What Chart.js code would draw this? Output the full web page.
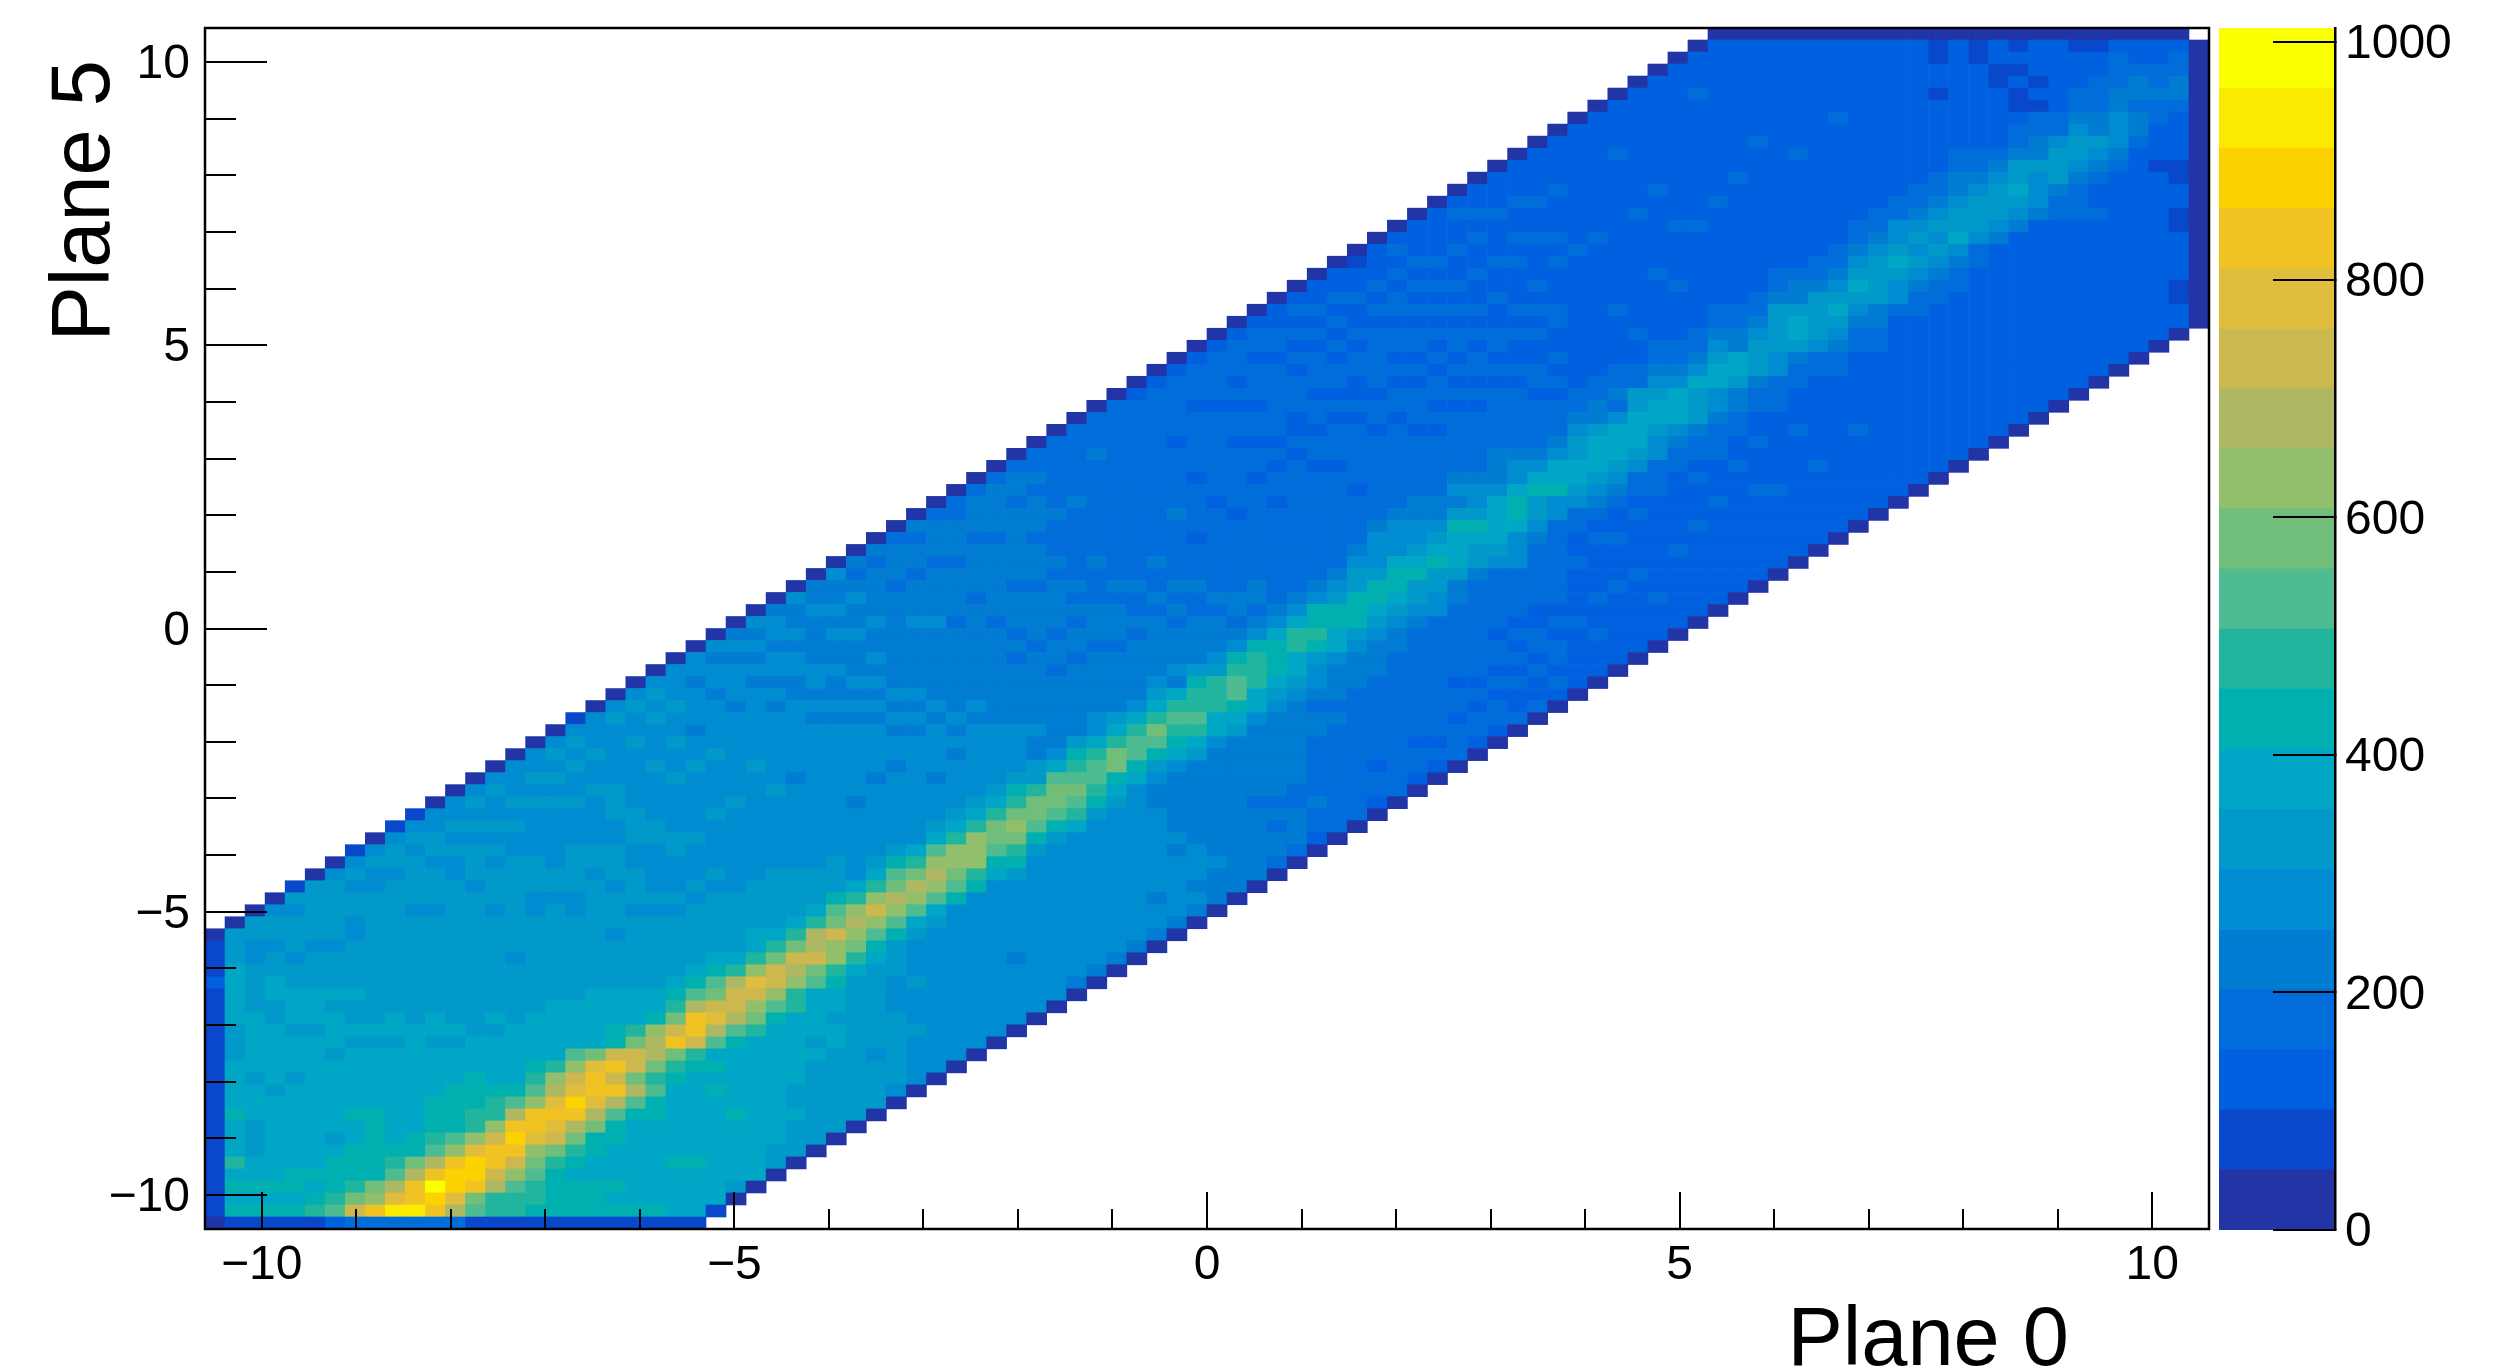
<!DOCTYPE html>
<html><head><meta charset="utf-8">
<style>html,body{margin:0;padding:0;background:#fff}#w{position:relative;width:2500px;height:1370px}canvas{position:absolute;left:0;top:0}</style>
<script src="https://cdn.jsdelivr.net/npm/chart.js@4"></script></head>
<body><div id="w"><canvas id="c1" width="2500" height="1370"></canvas><canvas id="c2" width="2500" height="1370"></canvas></div>
<script>
const xAxisTitle = "Plane 0";
const yAxisTitle = "Plane 5";
const axisMin = -10.6, axisMax = 10.6, binCount = 100;
const majorTicks = [-10, -5, 0, 5, 10];
const minorTicks = [-9,-8,-7,-6,-4,-3,-2,-1,1,2,3,4,6,7,8,9];
const zMax = 1012;
const zTicks = [0, 200, 400, 600, 800, 1000];
const palette = ["#2135A6","#0A48CB","#0061E0","#006DDB","#007CD3","#008CD0","#0099C9","#00A6C6","#00B0B0","#22B59E",
 "#4EBB90","#71BE7A","#92BF6C","#AEB863","#CCB84F","#E0BD3C","#F0C322","#FCD300","#F9EA00","#FBFF00"];
// per column: contour level (base-20 digit) of each filled y bin, lowest filled bin first
const columnFirstBin = [0,0,0,0,0,0,0,0,0,0,0,0,0,0,0,0,0,0,0,0,0,0,0,0,0,1,2,3,4,5,6,7,8,9,10,11,12,13,14,15,16,17,18,19,20,21,22,23,24,25,26,27,28,29,30,31,32,33,34,35,36,37,38,39,40,41,42,43,44,45,46,47,48,49,50,51,52,53,54,55,56,57,58,59,60,61,62,63,64,65,66,67,68,69,70,71,72,73,74,75];
const columnLevels = [
"0111111111 1111111111 21110",
"1878797778 7777666777 776660",
"1878776667 7767777766 6655660",
"1878777777 7677777667 76656650",
"1878877777 7767776777 665666561",
"1987877777 7777776777 6665666660",
"2a98887677 7777677767 66656666650",
"3eb9888778 7777767667 666655665651",
"3gcb888888 7777767666 6666666655650",
"3ifda98777 7777767766 66666666656651",
"3iggdb8877 7777777666 666666566665651",
"3ghjgda988 8777767766 6666665666566550",
"3dfhhgca88 8877767666 66666666655656550",
"1abghhfc99 8887776666 666666665666565650",
"199deggec9 9877776766 6666665666565655650",
"199aceghgd a877777666 66566666666556565550",
"1899abcfgg ca98777766 666666556665555656550",
"188889befg fdc9777776 6666666566555556565650",
"1888789bdg hfeca77776 66666655666655565565651",
"18887788bd fggfb77777 666666666566555565565550",
"187877788a dgege88777 6666566656665566655555650",
"1877777778 adbeeb9777 66666656665566655555655650",
"1877777778 8a9bddc877 666666565555665555655565650",
"1777787777 7789bgeb98 7666665655566555565565565550",
"1777787777 77789eggda 8766666565 5565555565 545554550",
"1777777777 8787adfeba 8766666565 5556555565 555455450",
"0677777877 7778adeed9 7666665555 5556555555 545554540",
"0777777777 7779bcefc9 7766665555 5555565555 554545450",
"0667777777 7778aceeb9 7666665555 5565555554 545545540",
"0666766777 77799cdeb9 7666655555 5545555554 455454450",
"0666666676 7777abedd9 7666555555 5555554545 544445440",
"0666666677 67789cceba 8666555555 5555545445 445454450",
"0666666666 66679bcdc9 7555555455 5555454544 454454340",
"0666656666 66678acec9 7655555545 5554545454 454444340",
"0566666655 56668acdba 8655555545 5454544444 444344430",
"0555565556 55567acdb9 7555555555 4545444445 444344340",
"0555555555 55567acdca 7655545555 4544444454 444344430",
"0555555555 55558abcc9 7655554545 4444444344 443444330",
"0555555555 555589ccc9 7655555545 4444444434 444344430",
"0555555555 555578abb9 7655555444 4444434444 443444430",
"0555554555 555689bcb9 8655554444 4343444344 444434430",
"0555555555 555568abb9 6644544444 4344443444 344434330",
"0555555555 555568abba 7544444434 4344443433 343333330",
"0455555555 555579aba9 8644444434 4343433333 343333330",
"0455555555 5555689aa9 7554444434 4433343333 333343330",
"0455555555 5555678bb9 7644444344 4343333333 333333330",
"0455555555 5555578aa9 7544444343 3433333333 333333320",
"0455455555 5544568ab9 7654444434 3343333333 333333320",
"0455555454 44445789a9 7454443434 3333343333 323333320",
"0454555444 4444679a99 8644443343 3323333233 333233320",
"0444544444 4444577999 6544434333 3333233333 332333320",
"0444444444 4444678aa9 8543443333 3323333323 323233320",
"0444444344 4444577999 8543443333 3333233233 233323320",
"0344343444 4444567888 7543333333 3233232333 333233220",
"0344433444 4444567799 7543333333 3333232233 323232320",
"0233433333 4434556898 8543333333 3323323323 332323220",
"0333333333 4344457788 6543333333 3233323233 232323220",
"0333333333 3344456888 6654333323 3333232233 232232210",
"0233233333 3344456788 6555433333 3323323333 323232220",
"0333333333 3334456788 7555433333 3323323233 233232320",
"0233233333 3333456687 6554433333 2333232332 323232220",
"0232333333 3333556687 6544333332 3233232323 232322220",
"0333233233 3333446777 8645433333 2323233232 322322320",
"0233232333 3333346678 6554333332 3233232322 322323220",
"0233232332 3333356777 7544433333 2323322322 322232220",
"0322323232 3333555788 7554333332 3223232223 232232220",
"0322323322 3333345668 7543333233 2232323222 322322220",
"0232332323 3333335587 7543332323 2233222323 222322220",
"0222223222 2322335677 6654332222 2222222322 222222220",
"0222322322 2232345677 7644332222 2222222322 222222220",
"0222222322 2322345677 7534332222 3222222222 222322220",
"0222222322 2232335677 7663322322 2222222322 222222220",
"0222322222 2223335567 7654332222 2322222232 222222220",
"0222222322 2222334577 7543322223 2222322222 222222220",
"0222222232 2232334666 7543322222 2223222222 222232220",
"0222222223 2223334557 7654332222 2222322222 222222220",
"0222222222 2322334467 7443322222 2222232222 22222220",
"0222222232 2232233466 6543322222 2222222322 2222220",
"0222222322 2222333556 6664332222 2222222222 222220",
"0222222222 2322233467 7644322222 2222322222 22220",
"0222222322 2222233566 6643322222 2222222222 2220",
"0222222222 2222334567 6543322222 2222232222 220",
"0222222232 2222233456 7654332222 2222222222 20",
"0222222222 2222334466 6654332222 2222222222 0",
"0222222222 2222223556 7655332222 2222222220",
"0222222222 2222233456 5654332222 222222220",
"0222222222 2222233456 5654332222 22122110",
"0222222222 2222233457 6654433222 2222220",
"0222222222 2222223356 6654332222 222110",
"0222222222 2222222456 6654322222 11220",
"0222222222 2222222456 7664332112 1210",
"0222222222 2222222455 5644331212 220",
"0222222222 2222223346 6653322222 20",
"0222222222 2222233345 6654332221 0",
"0222222222 2222322345 6443332210",
"0222222222 2222222345 554433320",
"0222222222 2222222234 43443220",
"0222222222 2222212223 3433220",
"0221122221 1221122223 443320",
"0000000000 0000000000 0000"
];
const binWidth = (axisMax - axisMin) / binCount;
const rowData = Array.from({length: binCount}, () => []);
const rowColors = Array.from({length: binCount}, () => []);
columnLevels.forEach((col, i) => {
  const cells = col.replace(/ /g, "");
  for (let n = 0; n < cells.length; n++) {
    const j = columnFirstBin[i] + n;
    rowData[j].push({x: axisMin + (i + .5) * binWidth, y: [axisMin + j * binWidth, axisMin + (j + 1) * binWidth]});
    rowColors[j].push(palette[parseInt(cells[n], 20)]);
  }
});
const tickFont = {family: "'Liberation Sans', Arial, sans-serif", size: 48};
const minus = v => String(v).replace("-", "\u2212");
const inkPlugin = {
  id: "ink",
  afterDraw(chart) {
    const {ctx, chartArea: a, scales: {x, y}} = chart;
    ctx.save();
    ctx.strokeStyle = "#000"; ctx.lineWidth = 2;
    ctx.beginPath();
    minorTicks.forEach(v => {
      const px = Math.round(x.getPixelForValue(v)), py = Math.round(y.getPixelForValue(v));
      ctx.moveTo(px, a.bottom); ctx.lineTo(px, a.bottom - 20);
      ctx.moveTo(a.left, py); ctx.lineTo(a.left + 31, py);
    });
    ctx.stroke();
    ctx.lineWidth = 2.5;
    ctx.strokeRect(a.left, a.top, a.right - a.left, a.bottom - a.top);
    ctx.fillStyle = "#000";
    ctx.font = "83px 'Liberation Sans', Arial, sans-serif";
    ctx.textAlign = "right"; ctx.textBaseline = "alphabetic";
    ctx.fillText(xAxisTitle, 2069, 1365);
    ctx.translate(109, 60); ctx.rotate(-Math.PI / 2);
    ctx.fillText(yAxisTitle, 0, 0);
    ctx.restore();
  }
};
const noPad = s => { s.paddingTop = 0; s.paddingBottom = 0; s.paddingLeft = 0; s.paddingRight = 0; };
new Chart(document.getElementById("c1"), {
  type: "bar",
  data: {datasets: rowData.map((d, j) => ({label: "row " + j, data: d, backgroundColor: rowColors[j], grouped: false,
    barPercentage: 1, categoryPercentage: 1, borderWidth: 0}))},
  options: {
    responsive: false, animation: false, events: [],
    layout: {padding: {left: 0, top: 28, right: 291, bottom: 0}},
    plugins: {legend: {display: false}, tooltip: {enabled: false}},
    scales: {
      x: {type: "linear", min: axisMin, max: axisMax, offset: false, position: "bottom",
        afterFit: s => { s.height = 141; noPad(s); },
        afterBuildTicks: s => { s.ticks = majorTicks.map(v => ({value: v})); },
        grid: {z: 1, offset: false, lineWidth: 0, drawOnChartArea: false, tickLength: -37, tickWidth: 2, tickColor: "#000"},
        border: {display: false},
        ticks: {autoSkip: false, maxRotation: 0, padding: 37 + 8, color: "#000", font: tickFont, callback: minus}},
      y: {type: "linear", min: axisMin, max: axisMax, position: "left",
        afterFit: s => { s.width = 205; noPad(s); },
        afterBuildTicks: s => { s.ticks = majorTicks.map(v => ({value: v})); },
        grid: {z: 1, lineWidth: 0, drawOnChartArea: false, tickLength: -62, tickWidth: 2, tickColor: "#000"},
        border: {display: false},
        ticks: {autoSkip: false, padding: 62 + 15, labelOffset: 3, color: "#000", font: tickFont, callback: minus}}
    }
  },
  plugins: [inkPlugin]
});
const zStep = zMax / palette.length;
new Chart(document.getElementById("c2"), {
  type: "bar",
  data: {labels: ["z"], datasets: palette.map((c, k) => ({label: "level " + k, data: [[k * zStep, (k + 1) * zStep]],
    backgroundColor: c, grouped: false, barPercentage: 1, categoryPercentage: 1, borderWidth: 0}))},
  options: {
    responsive: false, animation: false, events: [],
    layout: {padding: {left: 2219, top: 28, right: 0, bottom: 0}},
    plugins: {legend: {display: false}, tooltip: {enabled: false}},
    scales: {
      x: {display: false, afterFit: s => { s.height = 140; noPad(s); }},
      y: {type: "linear", min: 0, max: zMax, position: "right",
        afterFit: s => { s.width = 165; noPad(s); },
        afterBuildTicks: s => { s.ticks = zTicks.map(v => ({value: v})); },
        grid: {z: 1, lineWidth: 0, drawOnChartArea: false, tickLength: -62, tickWidth: 2, tickColor: "#000"},
        border: {z: 1, display: true, color: "#000", width: 2.5},
        ticks: {autoSkip: false, padding: 62 + 10, labelOffset: 3, color: "#000", font: tickFont, callback: v => String(v)}}
    }
  }
});
</script></body></html>
